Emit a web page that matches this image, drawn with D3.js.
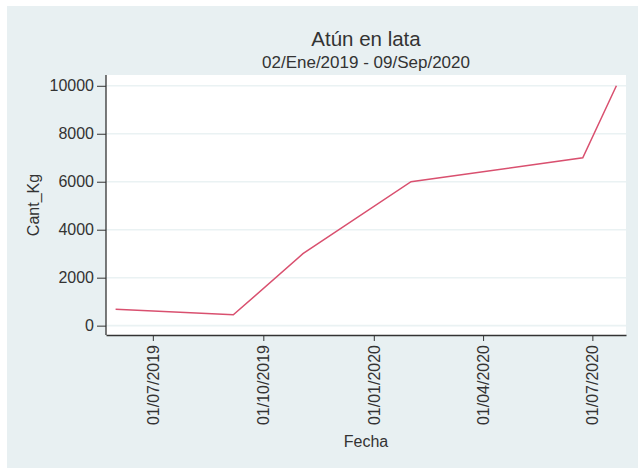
<!DOCTYPE html>
<html>
<head>
<meta charset="utf-8">
<script src="https://cdn.jsdelivr.net/npm/d3@7"></script>
<style>
  body { margin: 0; background: #fff; }
  svg text { font-family: "Liberation Sans", Arial, sans-serif; }
</style>
</head>
<body>
<div id="chart"></div>
<script>
(function(){

    // data
    const fechas = ["2019-05-31", "2019-09-06", "2019-11-03", "2020-02-01", "2020-06-23", "2020-07-21"];
    const cantKg = [680, 450, 3000, 6000, 7000, 10000];
    const yTicks = [0, 2000, 4000, 6000, 8000, 10000];
    const xTicks = ["2019-07-01", "2019-10-01", "2020-01-01", "2020-04-01", "2020-07-01"];
    const xDomain = ["2019-05-23", "2020-07-29"];

    const width = 638, height = 468;
    const plot = { left: 106, right: 626, top: 75, bottom: 335 };

    const parse = d3.timeParse("%Y-%m-%d");
    const fmt = d3.timeFormat("%d/%m/%Y");
    const data = fechas.map((f, i) => ({ fecha: parse(f), cant: cantKg[i] }));

    const svg = d3.select("#chart")
        .append("svg")
        .attr("width", width)
        .attr("height", height);

    // graph region background
    svg.append("rect")
        .attr("x", 7).attr("y", 6)
        .attr("width", width - 7).attr("height", height - 6)
        .attr("fill", "#e8f0f2");

    // plot region
    svg.append("rect")
        .attr("x", plot.left).attr("y", plot.top)
        .attr("width", plot.right - plot.left).attr("height", plot.bottom - plot.top)
        .attr("fill", "#ffffff");

    const x = d3.scaleTime()
        .domain(xDomain.map(parse))
        .range([plot.left, plot.right]);

    const y = d3.scaleLinear()
        .domain([-390, 10450])
        .range([plot.bottom, plot.top]);

    // gridlines
    svg.append("g")
        .selectAll("line")
        .data(yTicks)
        .enter()
        .append("line")
        .attr("x1", plot.left).attr("x2", plot.right)
        .attr("y1", d => y(d)).attr("y2", d => y(d))
        .attr("stroke", "#eaf2f3")
        .attr("stroke-width", 1.6);

    // line
    const line = d3.line()
        .x(d => x(d.fecha))
        .y(d => y(d.cant));

    svg.append("path")
        .datum(data)
        .attr("fill", "none")
        .attr("stroke", "#d9506f")
        .attr("stroke-width", 1.5)
        .attr("d", line);

    // y axis
    const yAxis = svg.append("g")
        .attr("transform", `translate(${plot.left},0)`)
        .call(d3.axisLeft(y).tickValues(yTicks).tickFormat(d3.format("d"))
            .tickSize(9).tickPadding(3).tickSizeOuter(0));
    yAxis.select(".domain").attr("stroke", "#333").attr("stroke-width", 1.3)
        .attr("d", `M0,${plot.top}V${plot.bottom}`);
    yAxis.selectAll(".tick line").attr("stroke", "#333");
    yAxis.selectAll(".tick text")
        .attr("fill", "#333")
        .style("font-size", "16px");

    // x axis
    const xAxis = svg.append("g")
        .attr("transform", `translate(0,${plot.bottom})`)
        .call(d3.axisBottom(x).tickValues(xTicks.map(parse)).tickFormat(fmt).tickSize(6).tickSizeOuter(0));
    xAxis.select(".domain").attr("stroke", "#333").attr("stroke-width", 1.3);
    xAxis.selectAll(".tick line").attr("stroke", "#333");
    xAxis.selectAll(".tick text")
        .attr("fill", "#333")
        .style("font-size", "16px")
        .attr("transform", "rotate(-90)")
        .attr("text-anchor", "end")
        .attr("x", -10)
        .attr("y", 0)
        .attr("dy", "0.35em");

    // titles
    const cx = (plot.left + plot.right) / 2;
    svg.append("text")
        .attr("x", cx).attr("y", 46)
        .attr("text-anchor", "middle")
        .attr("fill", "#333")
        .style("font-size", "20.5px")
        .text("Atún en lata");

    svg.append("text")
        .attr("x", cx).attr("y", 68)
        .attr("text-anchor", "middle")
        .attr("fill", "#333")
        .style("font-size", "17px")
        .text("02/Ene/2019 - 09/Sep/2020");

    svg.append("text")
        .attr("x", cx).attr("y", 447)
        .attr("text-anchor", "middle")
        .attr("fill", "#333")
        .style("font-size", "16px")
        .text("Fecha");

    svg.append("text")
        .attr("transform", `translate(39,${(plot.top + plot.bottom) / 2}) rotate(-90)`)
        .attr("text-anchor", "middle")
        .attr("fill", "#333")
        .style("font-size", "16px")
        .text("Cant_Kg");

})();
</script>
</body>
</html>
